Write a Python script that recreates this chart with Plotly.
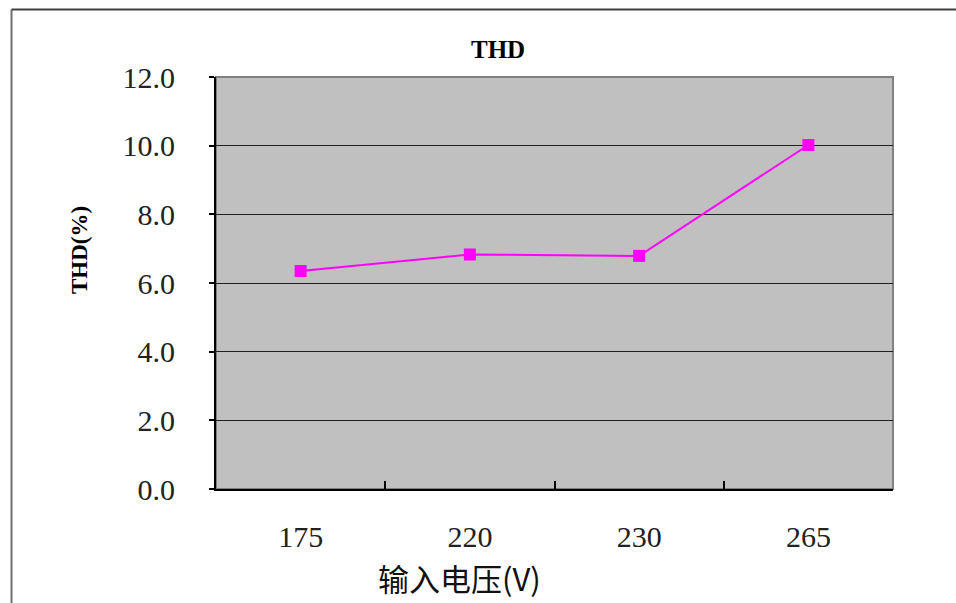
import plotly.graph_objects as go

# Input voltage categories and measured total harmonic distortion
voltages = ["175", "220", "230", "265"]
thd_percent = [6.35, 6.83, 6.79, 10.02]
y_ticks = [0, 2, 4, 6, 8, 10, 12]

W, H = 956, 603
L, R, T, B = 216, 893, 77, 489  # plot area in pixels


def px(x):
    return (x - L) / (R - L)


def py(y):
    return (B - y) / (B - T)


fig = go.Figure()
fig.add_trace(go.Scatter(
    x=voltages, y=thd_percent, mode="lines+markers",
    line=dict(color="#FF00FF", width=2),
    marker=dict(symbol="square", size=12, color="#FF00FF"),
    showlegend=False, cliponaxis=False,
))

num_font = dict(family="Liberation Serif, serif", size=30, color="#222222")

fig.update_layout(
    width=W, height=H,
    margin=dict(l=L, r=W - R, t=T, b=H - B),
    paper_bgcolor="white",
    plot_bgcolor="#C0C0C0",
    xaxis=dict(
        type="category", range=[-0.5, 3.5],
        tickson="boundaries", ticks="inside", ticklen=8, tickcolor="#000000", tickwidth=1.5,
        showgrid=False, showline=True, linecolor="#000000", linewidth=2,
        tickfont=num_font, ticklabelstandoff=20,
        zeroline=False,
    ),
    yaxis=dict(
        range=[0, 12], tickvals=y_ticks, tickformat=".1f",
        ticks="outside", ticklen=5, tickcolor="#000000", tickwidth=1.5,
        showgrid=True, gridcolor="#202020", gridwidth=1.3,
        showline=True, linecolor="#000000", linewidth=2,
        tickfont=num_font, ticklabelstandoff=28,
        zeroline=False,
    ),
    shapes=[
        # plot area frame (top and right edges are grey)
        dict(type="rect", xref="paper", yref="paper", x0=0, x1=1, y0=0, y1=1,
             line=dict(color="#808080", width=2), layer="below"),
        # outer chart border
        dict(type="line", xref="paper", yref="paper",
             x0=px(11.5), x1=px(11.5), y0=py(9.5), y1=py(620),
             line=dict(color="#707070", width=2)),
        dict(type="line", xref="paper", yref="paper",
             x0=px(11.5), x1=px(970), y0=py(9.5), y1=py(9.5),
             line=dict(color="#404040", width=2)),
    ],
    annotations=[
        dict(text="<b>THD</b>", xref="paper", yref="paper", x=px(498), y=py(50),
             showarrow=False, xanchor="center", yanchor="middle",
             font=dict(family="Liberation Serif, serif", size=25, color="#000000")),
        dict(text="<b>THD(%)</b>", xref="paper", yref="paper", x=px(79), y=py(250),
             showarrow=False, xanchor="center", yanchor="middle", textangle=-90,
             font=dict(family="Liberation Serif, serif", size=23, color="#000000")),
        dict(text="输入电压(V)", xref="paper", yref="paper", x=px(459), y=py(577),
             showarrow=False, xanchor="center", yanchor="middle",
             font=dict(family="Noto Sans CJK SC, sans-serif", size=31, color="#111111")),
    ],
)

fig.write_html("out.html")
